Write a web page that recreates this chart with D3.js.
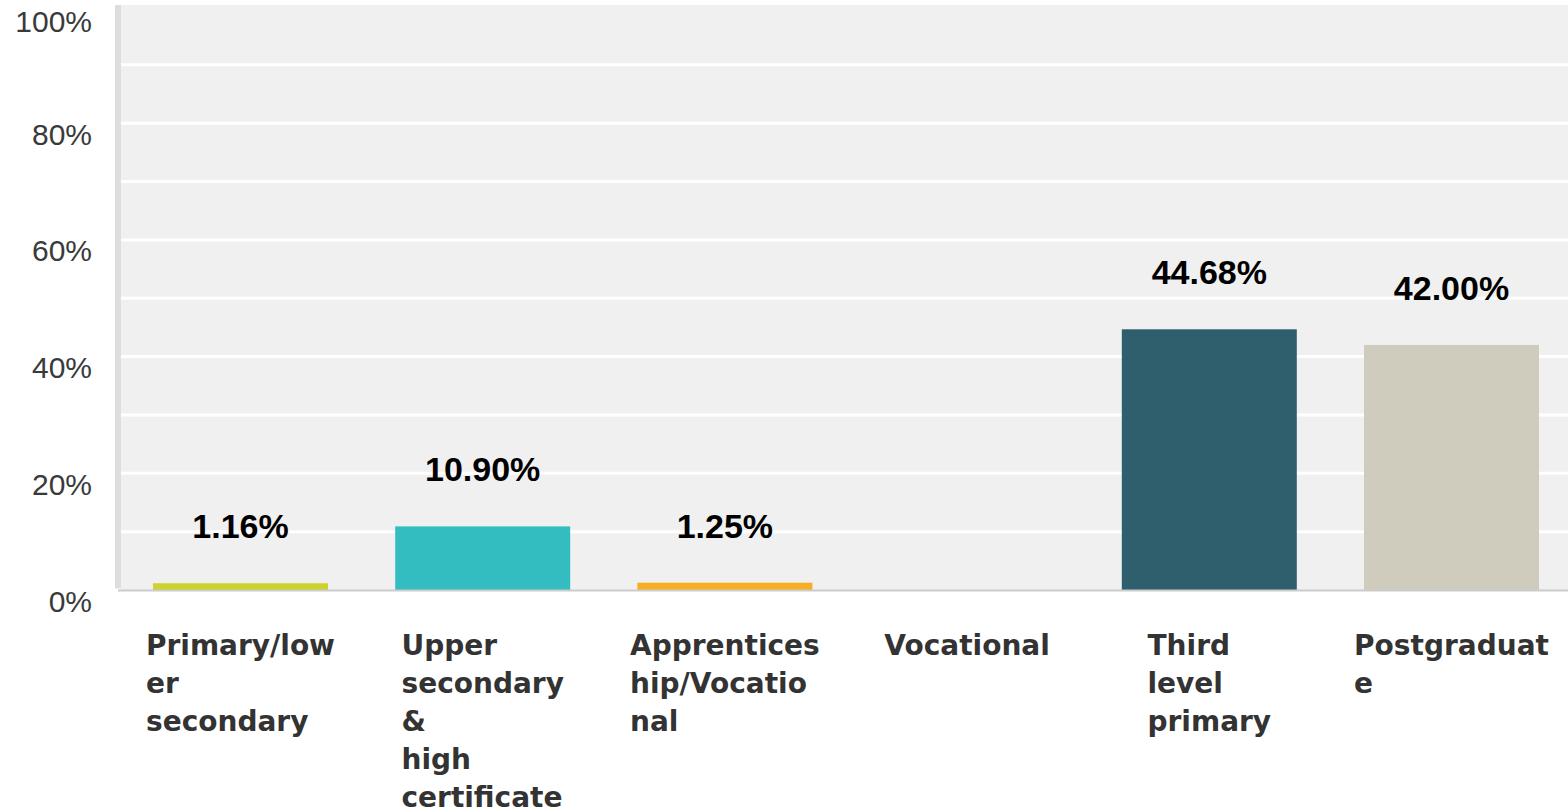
<!DOCTYPE html>
<html>
<head>
<meta charset="utf-8">
<script src="https://cdn.jsdelivr.net/npm/d3@7"></script>
<style>
  html, body { margin: 0; padding: 0; background: #fff; }
  svg { display: block; }
</style>
</head>
<body>
<svg id="chart" width="1568" height="809"></svg>
<script>
// ---- data ----
const categories = ["Primary/lower secondary", "Upper secondary & high certificate", "Apprenticeship/Vocational", "Vocational", "Third level primary", "Postgraduate"];
const categoryLines = [
  ["Primary/low", "er", "secondary"],
  ["Upper", "secondary", "&", "high", "certificate"],
  ["Apprentices", "hip/Vocatio", "nal"],
  ["Vocational"],
  ["Third", "level", "primary"],
  ["Postgraduat", "e"]
];
const values = [1.16, 10.90, 1.25, 0, 44.68, 42.00];
const valueLabels = ["1.16%", "10.90%", "1.25%", "", "44.68%", "42.00%"];
const barColors = ["#cbd32c", "#33bdc0", "#f6ae22", "#999999", "#2f5f6d", "#cfccbd"];
const yTicks = [0, 20, 40, 60, 80, 100];
const yTickLabels = ["0%", "20%", "40%", "60%", "80%", "100%"];
const gridTicks = [0, 10, 20, 30, 40, 50, 60, 70, 80, 90];

// ---- layout ----
const svg = d3.select("#chart");
const plotLeft = 121, plotRight = 1568;
const y = d3.scaleLinear().domain([0, 100]).range([590, 6.5]);
const x = d3.scaleBand().domain(categories).range([119.4, 1572.6])
  .paddingInner(0.2775).paddingOuter(0.13875);

// plot background
svg.append("rect")
  .attr("x", plotLeft).attr("y", y(100) - 1.5)
  .attr("width", plotRight - plotLeft).attr("height", y(0) - y(100) + 1.5)
  .attr("fill", "#f0f0f0");

// gridlines
svg.append("g").selectAll("line").data(gridTicks.filter(d => d > 0)).join("line")
  .attr("x1", plotLeft).attr("x2", plotRight)
  .attr("y1", d => y(d)).attr("y2", d => y(d))
  .attr("stroke", "#ffffff").attr("stroke-width", 3);

// left axis bar
svg.append("rect")
  .attr("x", 115).attr("y", y(100) - 1.5)
  .attr("width", 6).attr("height", y(0) - y(100))
  .attr("fill", "#dedede");

// bars
svg.append("g").selectAll("rect").data(values).join("rect")
  .attr("x", (d, i) => x(categories[i]))
  .attr("width", x.bandwidth())
  .attr("y", d => y(d))
  .attr("height", d => y(0) - y(d))
  .attr("fill", (d, i) => barColors[i]);

// bottom axis line
svg.append("line")
  .attr("x1", 118).attr("x2", plotRight)
  .attr("y1", y(0) + 0.5).attr("y2", y(0) + 0.5)
  .attr("stroke", "#cccccc").attr("stroke-width", 2);

// y tick labels
svg.append("g").selectAll("text").data(yTicks).join("text")
  .attr("x", 92)
  .attr("y", d => Math.max(y(d) + 21.5, 31.5))
  .attr("text-anchor", "end")
  .attr("font-family", "'Liberation Sans', Arial, sans-serif")
  .attr("font-size", 30)
  .attr("fill", "#3a3a3a")
  .text((d, i) => yTickLabels[i]);

// value labels
svg.append("g").selectAll("text").data(values).join("text")
  .attr("x", (d, i) => x(categories[i]) + x.bandwidth() / 2)
  .attr("y", d => y(d) - 45)
  .attr("text-anchor", "middle")
  .attr("font-family", "'Liberation Sans', Arial, sans-serif")
  .attr("font-weight", "bold")
  .attr("font-size", 34)
  .attr("fill", "#000")
  .text((d, i) => valueLabels[i]);

// category labels: block of left-aligned lines centred on the band
const cat = svg.append("g").selectAll("text").data(categories).join("text")
  .attr("y", 655)
  .attr("font-family", "'DejaVu Sans', Verdana, sans-serif")
  .attr("font-weight", "bold")
  .attr("font-size", 28)
  .attr("fill", "#333");
cat.each(function(d, i) {
  const t = d3.select(this);
  const spans = t.selectAll("tspan").data(categoryLines[i]).join("tspan")
    .attr("dy", (s, j) => j === 0 ? 0 : 38)
    .text(s => s);
  let maxW = 0;
  spans.each(function() { maxW = Math.max(maxW, this.getComputedTextLength()); });
  const left = x(d) + x.bandwidth() / 2 - maxW / 2;
  spans.attr("x", left);
});
</script>
</body>
</html>
